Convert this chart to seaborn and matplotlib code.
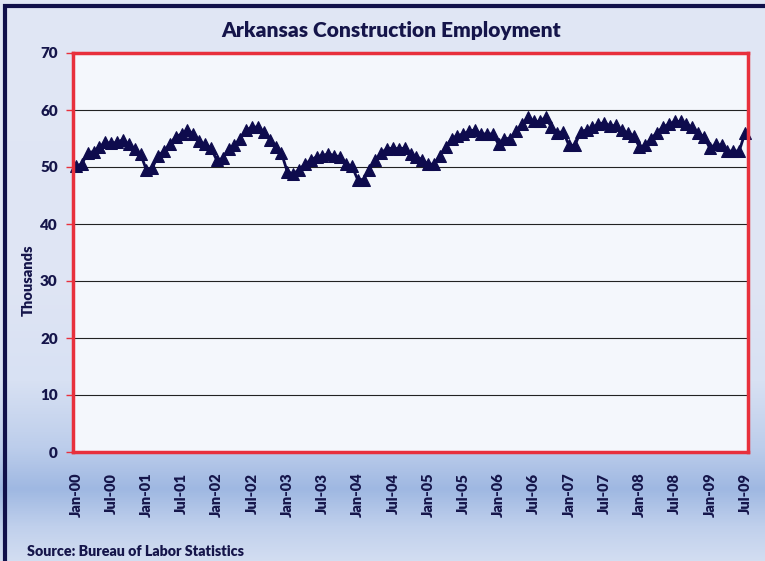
import numpy as np
import pandas as pd
import matplotlib
matplotlib.use("Agg")
import matplotlib.pyplot as plt
from matplotlib.patches import Rectangle
from matplotlib.colors import LinearSegmentedColormap
import seaborn as sns

# ---- data (thousands, monthly Jan-2000 .. Jul-2009) ----
y2000 = [50.2, 50.5, 52.5, 52.7, 53.5, 54.3, 54.2, 54.3, 54.8, 54.0, 53.2, 52.3]
y2001 = [49.5, 49.8, 52.0, 52.8, 54.0, 55.3, 55.8, 56.5, 55.8, 54.5, 54.0, 53.3]
y2002 = [51.2, 51.5, 53.2, 53.8, 55.0, 56.5, 57.0, 57.0, 56.2, 54.8, 53.5, 52.5]
y2003 = [49.2, 48.8, 49.5, 50.5, 51.2, 51.8, 52.0, 52.3, 52.0, 51.8, 50.5, 50.2]
y2004 = [47.8, 47.8, 49.5, 51.2, 52.5, 53.2, 53.3, 53.2, 53.3, 52.3, 51.8, 51.3]
y2005 = [50.5, 50.5, 52.0, 53.5, 55.0, 55.5, 55.8, 56.3, 56.5, 55.8, 55.8, 55.8]
y2006 = [54.0, 55.0, 55.0, 56.3, 57.5, 58.7, 58.0, 58.0, 58.7, 57.0, 56.0, 56.2]
y2007 = [53.8, 53.8, 56.2, 56.5, 57.0, 57.5, 57.8, 57.2, 57.3, 56.5, 56.0, 55.5]
y2008 = [53.5, 53.8, 55.0, 56.0, 57.0, 57.5, 58.0, 58.0, 57.5, 57.0, 56.0, 55.3]
y2009 = [53.3, 54.0, 53.8, 52.8, 52.8, 52.8, 56.0]

tick_labels = ["Jan-00", "Jul-00", "Jan-01", "Jul-01", "Jan-02", "Jul-02", "Jan-03",
               "Jul-03", "Jan-04", "Jul-04", "Jan-05", "Jul-05", "Jan-06", "Jul-06",
               "Jan-07", "Jul-07", "Jan-08", "Jul-08", "Jan-09", "Jul-09"]

values = y2000 + y2001 + y2002 + y2003 + y2004 + y2005 + y2006 + y2007 + y2008 + y2009
df = pd.DataFrame({"month": np.arange(len(values)), "employment": values})

navy = "#0e0b4d"
txt = "#15154a"
red = "#e8303c"

sns.set_theme(style="white")
plt.rcParams["font.family"] = ["Lato", "DejaVu Sans"]

W, H = 765, 561
fig = plt.figure(figsize=(W / 100, H / 100), dpi=100)

# background gradient
bg = fig.add_axes([0, 0, 1, 1], zorder=-10)
cmap = LinearSegmentedColormap.from_list(
    "bg", [(0.0, "#d2ddf1"), (0.06, "#c0d0ec"), (0.127, "#9fb8e2"),
           (0.2, "#bccdeb"), (0.32, "#d8e1f3"), (0.5, "#dfe5f4"), (1.0, "#e1e7f5")])
grad = np.linspace(0, 1, 256).reshape(-1, 1)
bg.imshow(grad, aspect="auto", cmap=cmap, extent=[0, 1, 0, 1], origin="lower")
bg.set_xlim(0, 1)
bg.set_ylim(0, 1)
bg.axis("off")
bg.add_patch(Rectangle((5 / W, -0.1), 1.2, 1.1 - 6 / H, fill=False,
                       edgecolor="#10104a", linewidth=3, transform=bg.transAxes))

ax = fig.add_axes([73 / W, 1 - 452 / H, (748 - 73) / W, (452 - 53) / H])
ax.set_facecolor("#f4f7fc")

sns.lineplot(data=df, x="month", y="employment", ax=ax, color=navy, linewidth=2,
             marker="^", markersize=9, markeredgecolor=navy, markerfacecolor=navy)
for ln in ax.lines:
    ln.set_clip_on(False)

ax.set_ylim(0, 70)
ax.set_xlim(-0.5, len(values) - 0.5)
ax.set_yticks(range(0, 71, 10))
ax.set_xticks(range(0, len(values), 6))
ax.set_xticklabels(tick_labels, rotation=90)
ax.yaxis.grid(True, color="#222222", linewidth=0.8)
ax.set_axisbelow(True)
for s in ax.spines.values():
    s.set_color(red)
    s.set_linewidth(2.5)

ax.tick_params(axis="y", left=True, length=5, width=1, color=red, pad=6,
               labelsize=11, labelcolor=txt)
ax.tick_params(axis="x", bottom=False, pad=9, labelsize=10.5, labelcolor=txt)
for lab in ax.get_yticklabels() + ax.get_xticklabels():
    lab.set_fontweight("heavy")

ax.set_xlabel("")
ax.set_ylabel("Thousands", fontsize=10.5, fontweight="heavy", color=txt)
ax.yaxis.set_label_coords(-0.057, 0.43)

fig.text(391 / W, 1 - 30 / H, "Arkansas Construction Employment", ha="center",
         va="center", fontsize=15, fontweight="heavy", color=txt)
fig.text(27 / W, 1 - 551 / H, "Source: Bureau of Labor Statistics", ha="left",
         va="center", fontsize=10.3, fontweight="heavy", color=txt)

fig.savefig("out.png", dpi=100)
